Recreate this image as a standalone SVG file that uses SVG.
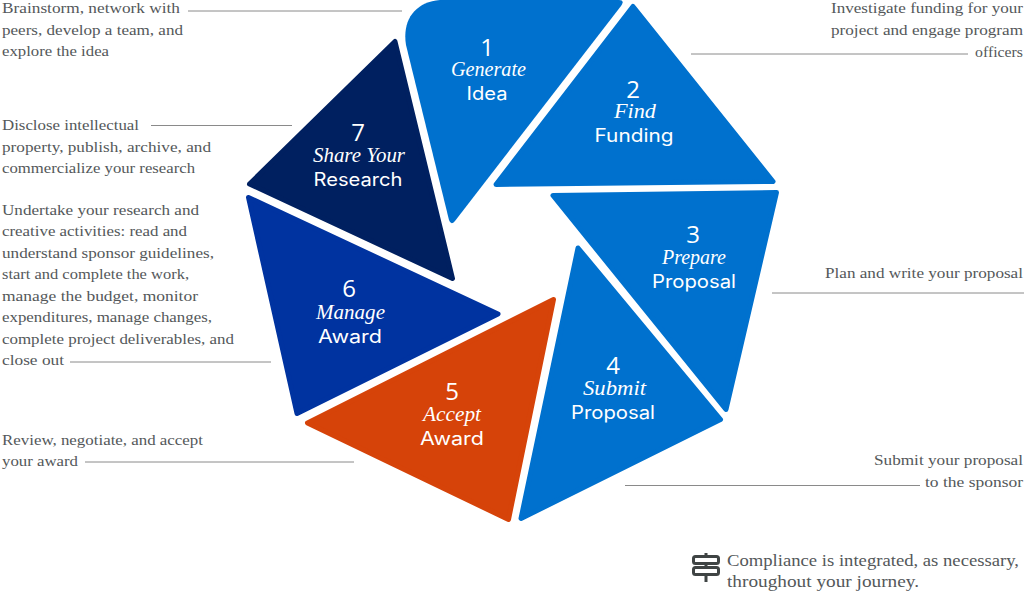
<svg xmlns="http://www.w3.org/2000/svg" width="1024" height="592" viewBox="0 0 1024 592">
<style>
.s{stroke-linejoin:round;stroke-width:5}
.b{fill:#0071ce;stroke:#0071ce}
.n,.w,.i{fill:#fff;text-anchor:middle}
.n{font:24px "Open Sans","Liberation Sans",sans-serif}
.w{font:18px "Inter","Liberation Sans",sans-serif}
.i{font:italic 21px "Liberation Serif",serif}
.t{font:15.6px "Liberation Serif",serif;fill:#54585a}
.c{font-size:17px}
.l{stroke:#8a8a8a;stroke-width:1;fill:none}
</style>
<g id="connectors">
<path class="l" d="M188 11H402M691 54H968M151 125.500H292M772 293H1024M70 362H271M85 462H354M625 485.500H920"/>
</g>
<g id="node1"><path d="M440 0H619Q625 0 621 6L455 221Q451 226 449 220L406 45C402 20 415 2 440 0Z" fill="#0071ce"/>
<text class="n" x="487" y="56">1</text><text class="i" x="488.500" y="76" textLength="75" lengthAdjust="spacingAndGlyphs">Generate</text><text class="w" x="487" y="100" textLength="41" lengthAdjust="spacingAndGlyphs">Idea</text></g>
<g id="node2"><path class="s b" d="M633 6.500L773 181.500L496 184.500Z"/>
<text class="n" x="633" y="98">2</text><text class="i" x="635" y="118" textLength="42" lengthAdjust="spacingAndGlyphs">Find</text><text class="w" x="634" y="142" textLength="79" lengthAdjust="spacingAndGlyphs">Funding</text></g>
<g id="node3"><path class="s b" d="M553 195.500L776.500 192.500L726 409.500Z"/>
<text class="n" x="693" y="243">3</text><text class="i" x="694" y="264" textLength="64" lengthAdjust="spacingAndGlyphs">Prepare</text><text class="w" x="694" y="288" textLength="84" lengthAdjust="spacingAndGlyphs">Proposal</text></g>
<g id="node4"><path class="s b" d="M578 248L720.500 419.500L521 518.500Z"/>
<text class="n" x="613" y="374">4</text><text class="i" x="614.500" y="395" textLength="63" lengthAdjust="spacingAndGlyphs">Submit</text><text class="w" x="613" y="419" textLength="84" lengthAdjust="spacingAndGlyphs">Proposal</text></g>
<g id="node5"><path class="s" fill="#d64309" stroke="#d64309" d="M553.500 299.500L307.500 423L508.500 519.500Z"/>
<text class="n" x="452" y="400">5</text><text class="i" x="452" y="421" textLength="58" lengthAdjust="spacingAndGlyphs">Accept</text><text class="w" x="452" y="445" textLength="64" lengthAdjust="spacingAndGlyphs">Award</text></g>
<g id="node6"><path class="s" fill="#0033a0" stroke="#0033a0" d="M248.500 197.500L498 314L297 413.500Z"/>
<text class="n" x="349" y="297">6</text><text class="i" x="350.500" y="319" textLength="69" lengthAdjust="spacingAndGlyphs">Manage</text><text class="w" x="350" y="343" textLength="64" lengthAdjust="spacingAndGlyphs">Award</text></g>
<g id="node7"><path class="s" fill="#002060" stroke="#002060" d="M395 41.500L452.500 278.500L249.500 184Z"/>
<text class="n" x="358" y="141">7</text><text class="i" x="359" y="162" textLength="92" lengthAdjust="spacingAndGlyphs">Share Your</text><text class="w" x="358" y="186" textLength="89" lengthAdjust="spacingAndGlyphs">Research</text></g>
<g id="notes">
<text class="t" x="2" y="13" textLength="178" lengthAdjust="spacingAndGlyphs">Brainstorm, network with</text>
<text class="t" x="2" y="35" textLength="181" lengthAdjust="spacingAndGlyphs">peers, develop a team, and</text>
<text class="t" x="2" y="56" textLength="107" lengthAdjust="spacingAndGlyphs">explore the idea</text>
<text class="t" x="2" y="130" textLength="137" lengthAdjust="spacingAndGlyphs">Disclose intellectual</text>
<text class="t" x="2" y="152" textLength="209" lengthAdjust="spacingAndGlyphs">property, publish, archive, and</text>
<text class="t" x="2" y="173" textLength="193" lengthAdjust="spacingAndGlyphs">commercialize your research</text>
<text class="t" x="2" y="215" textLength="197" lengthAdjust="spacingAndGlyphs">Undertake your research and</text>
<text class="t" x="2" y="236" textLength="185" lengthAdjust="spacingAndGlyphs">creative activities: read and</text>
<text class="t" x="2" y="258" textLength="212" lengthAdjust="spacingAndGlyphs">understand sponsor guidelines,</text>
<text class="t" x="2" y="279" textLength="187" lengthAdjust="spacingAndGlyphs">start and complete the work,</text>
<text class="t" x="2" y="301" textLength="196" lengthAdjust="spacingAndGlyphs">manage the budget, monitor</text>
<text class="t" x="2" y="322" textLength="210" lengthAdjust="spacingAndGlyphs">expenditures, manage changes,</text>
<text class="t" x="2" y="344" textLength="232" lengthAdjust="spacingAndGlyphs">complete project deliverables, and</text>
<text class="t" x="2" y="365" textLength="62" lengthAdjust="spacingAndGlyphs">close out</text>
<text class="t" x="2" y="445" textLength="201" lengthAdjust="spacingAndGlyphs">Review, negotiate, and accept</text>
<text class="t" x="2" y="466" textLength="76" lengthAdjust="spacingAndGlyphs">your award</text>
<text class="t" x="831" y="13" textLength="192" lengthAdjust="spacingAndGlyphs">Investigate funding for your</text>
<text class="t" x="831" y="35" textLength="192" lengthAdjust="spacingAndGlyphs">project and engage program</text>
<text class="t" x="975" y="57" textLength="48" lengthAdjust="spacingAndGlyphs">officers</text>
<text class="t" x="825" y="278" textLength="198" lengthAdjust="spacingAndGlyphs">Plan and write your proposal</text>
<text class="t" x="874" y="465" textLength="149" lengthAdjust="spacingAndGlyphs">Submit your proposal</text>
<text class="t" x="925" y="487" textLength="98" lengthAdjust="spacingAndGlyphs">to the sponsor</text>
</g>
<g id="compliance">
<g fill="none" stroke="#3f4444" stroke-width="3"><rect x="693.500" y="556.500" width="25" height="7" rx="2"/><rect x="693.500" y="567.500" width="25" height="7" rx="2"/><path d="M706 553V556.500M706 563.500V567.500M706 574.500V582"/></g>
<text class="t c" x="727" y="566" textLength="292" lengthAdjust="spacingAndGlyphs">Compliance is integrated, as necessary,</text>
<text class="t c" x="727" y="587" textLength="192" lengthAdjust="spacingAndGlyphs">throughout your journey.</text>
</g>
</svg>
